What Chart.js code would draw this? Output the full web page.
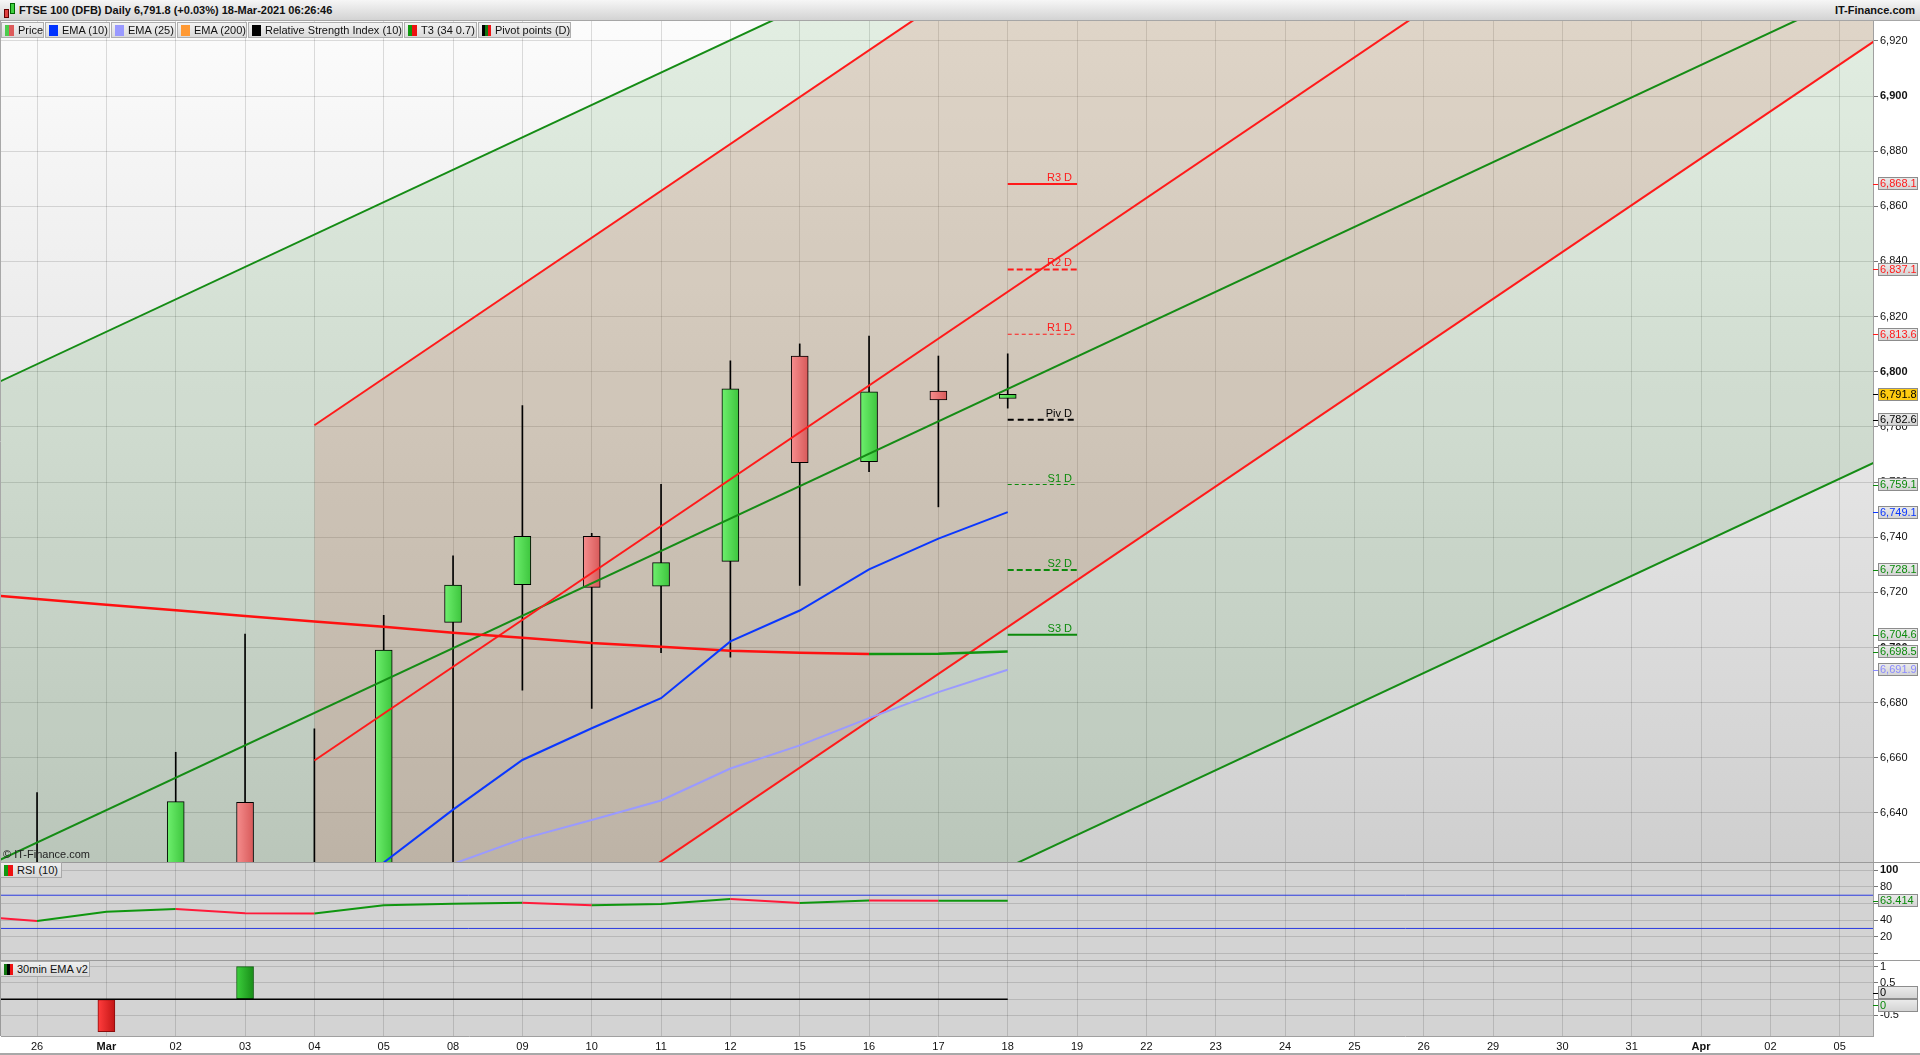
<!DOCTYPE html>
<html><head><meta charset="utf-8">
<script src="https://cdn.jsdelivr.net/npm/chart.js@4.4.1/dist/chart.umd.min.js"></script>
<style>
*{box-sizing:border-box}
html,body{margin:0;padding:0;background:#fff;width:1920px;height:1055px;overflow:hidden;font-family:"Liberation Sans",Arial,Helvetica,sans-serif;}
canvas{position:absolute;left:0}
#titlebar{position:absolute;left:0;top:0;width:1920px;height:21px;background:linear-gradient(#f6f6f6,#d3d3d3);border-bottom:1px solid #a6a6a6;}
#ticon{position:absolute;left:3px;top:2px;width:13px;height:16px}
#titletext{position:absolute;left:19px;top:4px;font-weight:bold;font-size:11px;color:#111;white-space:nowrap}
#brand{position:absolute;right:5px;top:4px;font-weight:bold;font-size:11px;color:#111}
#legend{position:absolute;left:1px;top:22px;height:16px;display:flex}
.item{height:16px;border:1px solid #aeaeae;background:linear-gradient(#f3f3f3,#dadada);font-size:11px;line-height:14px;padding:0 0 0 3px;display:flex;align-items:center;margin-right:1px;color:#111;white-space:nowrap}
.sw{width:9px;height:11px;margin-right:4px;flex:none}
.tag{position:absolute;left:0;height:16px;border:1px solid #a8a8a8;background:linear-gradient(#f0f0f0,#d8d8d8);font-size:11px;line-height:14px;display:flex;align-items:center;padding-left:3px;color:#111;white-space:nowrap}
#copy{position:absolute;left:3px;top:848px;font-size:11px;color:#222}
#bottomline{position:absolute;left:0;top:1053px;width:1920px;height:2px;background:#a8a8a8}
</style></head>
<body>
<canvas id="cMain" width="1920" height="841" style="top:21px;width:1920px;height:841px"></canvas>
<canvas id="cRsi" width="1920" height="98" style="top:862px;width:1920px;height:98px"></canvas>
<canvas id="cSig" width="1920" height="95" style="top:960px;width:1920px;height:95px"></canvas>

<div id="titlebar">
  <div id="ticon">
    <div style="position:absolute;left:1px;top:7px;width:5px;height:9px;background:#e04040;border:1px solid #600"></div>
    <div style="position:absolute;left:7px;top:1px;width:5px;height:11px;background:#40d040;border:1px solid #060"></div>
  </div>
  <div id="titletext">FTSE 100 (DFB) Daily 6,791.8 (+0.03%) 18-Mar-2021 06:26:46</div>
  <div id="brand">IT-Finance.com</div>
</div>
<div id="legend">
  <div class="item" style="width:43px"><span class="sw" style="background:linear-gradient(90deg,#4ccc4c 50%,#dd5a5a 50%)"></span>Price</div>
  <div class="item" style="width:65px"><span class="sw" style="background:#0033ff"></span>EMA (10)</div>
  <div class="item" style="width:65px"><span class="sw" style="background:#9999ff"></span>EMA (25)</div>
  <div class="item" style="width:70px"><span class="sw" style="background:#ff9933"></span>EMA (200)</div>
  <div class="item" style="width:155px"><span class="sw" style="background:#000"></span>Relative Strength Index (10)</div>
  <div class="item" style="width:73px"><span class="sw" style="background:linear-gradient(90deg,#119911 50%,#ee1111 50%)"></span>T3 (34 0.7)</div>
  <div class="item" style="width:93px"><span class="sw" style="background:linear-gradient(90deg,#000 33%,#117711 33%,#117711 66%,#ee1111 66%)"></span>Pivot points (D)</div>
</div>
<div id="copy">© IT-Finance.com</div>
<div class="tag" style="top:862px;width:62px"><span class="sw" style="background:linear-gradient(90deg,#119911 50%,#ee1111 50%)"></span>RSI (10)</div>
<div class="tag" style="top:961px;width:90px"><span class="sw" style="background:linear-gradient(90deg,#117711 33%,#000 33%,#000 66%,#ee1111 66%)"></span>30min EMA v2</div>
<div id="bottomline"></div>

<script>
// ---------- DATA ----------
const days = ['26','Mar','02','03','04','05','08','09','10','11','12','15','16','17','18','19','22','23','24','25','26','29','30','31','Apr','02','05'];
// daily candles 26 Feb .. 18 Mar (session index 0..14)
const priceOpen  = [6600.0, 6585.0, 6612.0, 6643.8, 6614.0, 6605.0, 6709.1, 6722.8, 6740.3, 6722.2, 6731.2, 6805.7, 6767.4, 6793.0, 6790.3];
const priceHigh  = [6647.4, 6618.0, 6662.0, 6704.9, 6670.5, 6711.7, 6733.2, 6787.7, 6741.4, 6759.2, 6804.0, 6810.1, 6812.9, 6805.7, 6806.5];
const priceLow   = [6570.0, 6575.0, 6600.0, 6600.0, 6590.0, 6585.0, 6615.0, 6684.5, 6677.9, 6698.1, 6696.5, 6722.5, 6763.8, 6751.0, 6786.8];
const priceClose = [6585.0, 6612.0, 6644.1, 6615.0, 6612.0, 6699.1, 6722.6, 6740.3, 6721.8, 6730.8, 6793.8, 6767.0, 6792.7, 6789.8, 6791.8];
const ema10 = [6576.0, 6580.0, 6590.0, 6598.0, 6605.0, 6622.0, 6641.2, 6659.2, 6670.7, 6681.6, 6702.2, 6713.4, 6728.3, 6739.5, 6749.1];
const ema25 = [6590.0, 6592.0, 6596.0, 6601.0, 6606.0, 6612.0, 6621.5, 6630.6, 6637.4, 6644.5, 6656.1, 6664.5, 6674.4, 6683.8, 6691.9];
// these two start one session earlier (25 Feb, just off the left edge)
const t3  = [6719.7, 6717.6, 6715.5, 6713.5, 6711.4, 6709.4, 6707.5, 6705.3, 6703.5, 6701.6, 6700.3, 6698.8, 6698.1, 6697.6, 6697.7, 6698.5];
const rsi = [45.1, 39.0, 50.2, 53.4, 48.2, 48.0, 57.9, 59.8, 61.0, 57.9, 59.4, 65.4, 60.6, 63.5, 63.2, 63.414];
const rsiLevels = [70, 30];
const signal = [0, -1, 0, 1, 0, 0, 0, 0, 0, 0, 0, 0, 0, 0, 0];
const pivotNames  = ['R3 D', 'R2 D', 'R1 D', 'Piv D', 'S1 D', 'S2 D', 'S3 D'];
const pivotValues = [6868.1, 6837.1, 6813.6, 6782.6, 6759.1, 6728.1, 6704.6];
// trend channels: session index of the two ends, and the price at each end
const greenChannelX = [-1, 27];
const greenUpper = [6791.0, 7120.0];
const greenMid   = [6617.5, 6946.5];
const greenLower = [6444.0, 6773.0];
const redChannelX = [4, 27];
const redUpper = [6780.6, 7171.6];
const redMid   = [6659.0, 7050.0];
const redLower = [6537.4, 6928.4];
const priceTicks  = [6640, 6660, 6680, 6700, 6720, 6740, 6760, 6780, 6800, 6820, 6840, 6860, 6880, 6900, 6920];
const rsiTicks    = [0, 20, 40, 60, 80, 100];
const signalTicks = [-0.5, 0, 0.5, 1];

// ---------- STYLE ----------
const FONT = '"Liberation Sans", Arial, Helvetica, sans-serif';
Chart.defaults.font.family = FONT;
Chart.defaults.font.size = 11;
Chart.defaults.color = '#111';
const GRID = 'rgba(0,0,0,0.13)';
const GREEN = '#158c15', RED = '#ff1a1a';
const X_MIN = -0.52, X_MAX = 26.48;
const pivotColors = [RED, RED, RED, '#000', '#0b8a0b', '#0b8a0b', '#0b8a0b'];
const pivotDash = [[], [6, 3], [4, 3], [6, 4], [4, 3], [6, 3], []];
const pivotWidth = [2, 2, 1, 2, 1, 2, 2];

const pts = (xs, ys) => ys.map((y, i) => ({x: xs[i], y}));
const seq = (arr, start) => arr.map((y, i) => ({x: i + start, y}));
const lastSession = priceClose.length - 1;

function xScale(showLabels) {
  return {
    type: 'linear', position: 'bottom', min: X_MIN, max: X_MAX, offset: false,
    afterBuildTicks: s => { s.ticks = days.map((d, i) => ({value: i})); },
    afterFit: s => { s.height = showLabels ? 19 : 0; s.paddingLeft = 0; s.paddingRight = 0; },
    grid: {color: GRID, drawTicks: false, offset: false},
    border: {display: showLabels, color: '#a0a0a0'},
    ticks: {
      display: showLabels, padding: 4, maxRotation: 0, autoSkip: false, color: '#111',
      font: c => ({size: 11, weight: (c.tick && /[A-Za-z]/.test(days[c.tick.value])) ? 'bold' : 'normal'}),
      callback: v => days[v]
    }
  };
}
function yScale(min, max, tickVals, fmt, boldFn) {
  return {
    type: 'linear', position: 'right', min, max, beginAtZero: false,
    afterBuildTicks: s => { s.ticks = tickVals.map(v => ({value: v})); },
    afterFit: s => { s.width = 47; s.paddingTop = 0; s.paddingBottom = 0; },
    grid: {color: GRID, tickColor: '#777', tickLength: 5},
    border: {color: '#a0a0a0'},
    ticks: {padding: 2, color: '#111', callback: fmt,
      font: c => ({size: 11, weight: (c.tick && boldFn(c.tick.value)) ? 'bold' : 'normal'})}
  };
}
function barGrad(c, light, dark) {
  const ch = c.chart, xs = ch.scales && ch.scales.x;
  if (!xs || !c.raw || !ch.chartArea) return light;
  const px = xs.getPixelForValue(c.raw.x);
  if (!isFinite(px)) return light;
  const g = ch.ctx.createLinearGradient(px - 8, 0, px + 9, 0);
  g.addColorStop(0, light); g.addColorStop(1, dark);
  return g;
}
function drawMarkers(chart, markers) {
  const {ctx, chartArea: a} = chart;
  const ys = chart.scales.y;
  const items = markers.map(m => Object.assign({}, m, {py: ys.getPixelForValue(m.value)})).sort((p, q) => p.py - q.py);
  const gap = 12.5;
  let i = 0;
  while (i < items.length) {
    let j = i;
    while (j + 1 < items.length && items[j + 1].py - items[j].py < gap) j++;
    if (j > i) {
      const mean = items.slice(i, j + 1).reduce((s, it) => s + it.py, 0) / (j - i + 1);
      const start = mean - gap * (j - i) / 2;
      for (let k = i; k <= j; k++) items[k].py = start + gap * (k - i);
    }
    i = j + 1;
  }
  ctx.save();
  ctx.font = '11px ' + FONT;
  ctx.textBaseline = 'middle'; ctx.textAlign = 'left';
  items.forEach(it => {
    const bx = a.right + 5, bw = 40, bh = 13, by = Math.round(it.py - bh / 2);
    ctx.strokeStyle = it.color; ctx.lineWidth = 1;
    ctx.beginPath(); ctx.moveTo(a.right, Math.round(it.py) + 0.5); ctx.lineTo(bx, Math.round(it.py) + 0.5); ctx.stroke();
    const g = ctx.createLinearGradient(0, by, 0, by + bh);
    g.addColorStop(0, it.bg ? it.bg : '#ececec'); g.addColorStop(1, it.bg ? it.bg : '#d2d2d2');
    ctx.fillStyle = g; ctx.fillRect(bx, by, bw, bh);
    ctx.strokeStyle = '#8c8c8c'; ctx.strokeRect(bx + 0.5, by + 0.5, bw - 1, bh - 1);
    ctx.fillStyle = it.textColor || it.color;
    ctx.fillText(it.text, bx + 2, by + bh / 2 + 0.5);
  });
  ctx.restore();
}
const fmtPrice = v => v.toLocaleString('en-US', {minimumFractionDigits: 1, maximumFractionDigits: 1});
const common = {responsive: false, animation: false, devicePixelRatio: 1, events: []};

// ---------- MAIN CHART ----------
const lineDs = (data, color, width, order, extra) => Object.assign({type: 'line', data, borderColor: color, borderWidth: width, pointRadius: 0, tension: 0, order, clip: 0}, extra || {});
const mainDatasets = [
  lineDs(pts(greenChannelX, greenUpper), GREEN, 2, 4, {fill: 2, backgroundColor: 'rgba(40,140,40,0.12)'}),
  lineDs(pts(greenChannelX, greenMid), GREEN, 2, 4),
  lineDs(pts(greenChannelX, greenLower), GREEN, 2, 4),
  lineDs(pts(redChannelX, redUpper), RED, 2, 3, {fill: 5, backgroundColor: 'rgba(210,90,70,0.17)'}),
  lineDs(pts(redChannelX, redMid), RED, 2, 3),
  lineDs(pts(redChannelX, redLower), RED, 2, 3),
  {type: 'bar', order: 7, clip: 0, grouped: false, barThickness: 1, backgroundColor: '#000', borderWidth: 0,
   data: priceHigh.map((h, i) => ({x: i, y: [priceLow[i], h]}))},
  {type: 'bar', order: 6, clip: 0, grouped: false, barThickness: 17, borderWidth: 1, borderColor: '#000', borderSkipped: false,
   backgroundColor: c => (c.raw && priceClose[c.raw.x] >= priceOpen[c.raw.x]) ? barGrad(c, '#6cee6c', '#3cc43c') : barGrad(c, '#f58c8c', '#d65858'),
   data: priceOpen.map((o, i) => ({x: i, y: [o, priceClose[i]]}))},
  lineDs(seq(ema25, 0), '#9a9aff', 2, 2),
  lineDs(seq(ema10, 0), '#0a37ff', 2, 2),
  lineDs(seq(t3, -1), GREEN, 2.5, 2, {segment: {borderColor: c => c.p1.parsed.y >= c.p0.parsed.y ? '#0f960f' : '#ff1010'}}),
  ...pivotValues.map((v, i) => lineDs([{x: lastSession, y: v}, {x: lastSession + 1, y: v}], pivotColors[i], pivotWidth[i], 1, {borderDash: pivotDash[i]}))
];
const mainPlugin = {
  id: 'mainDeco',
  beforeDraw(chart) {
    const {ctx, chartArea: a} = chart;
    if (!a) return;
    const g = ctx.createLinearGradient(0, a.top, 0, a.bottom);
    g.addColorStop(0, '#fcfcfc'); g.addColorStop(1, '#cfcfcf');
    ctx.save(); ctx.fillStyle = g; ctx.fillRect(a.left, a.top, a.right - a.left, a.bottom - a.top); ctx.restore();
  },
  afterDatasetsDraw(chart) {
    const {ctx} = chart; const xs = chart.scales.x, ys = chart.scales.y;
    ctx.save(); ctx.font = '11px ' + FONT; ctx.textAlign = 'right'; ctx.textBaseline = 'alphabetic';
    pivotValues.forEach((v, i) => {
      ctx.fillStyle = pivotColors[i];
      ctx.fillText(pivotNames[i], xs.getPixelForValue(lastSession + 1) - 5, ys.getPixelForValue(v) - 3);
    });
    ctx.restore();
  },
  afterDraw(chart) {
    const {ctx, chartArea: a} = chart;
    ctx.save(); ctx.strokeStyle = '#a8a8a8'; ctx.lineWidth = 1;
    ctx.beginPath(); ctx.moveTo(0.5, a.top); ctx.lineTo(0.5, a.bottom); ctx.stroke();
    ctx.restore();
    const markers = [
      ...pivotValues.map((v, i) => ({value: v, color: pivotColors[i], text: fmtPrice(v)})),
      {value: priceClose[lastSession], color: '#000', bg: '#ffcc11', text: fmtPrice(priceClose[lastSession])},
      {value: ema10[ema10.length - 1], color: '#0a37ff', text: fmtPrice(ema10[ema10.length - 1])},
      {value: t3[t3.length - 1], color: '#0b8a0b', text: fmtPrice(t3[t3.length - 1])},
      {value: ema25[ema25.length - 1], color: '#8a8aff', text: fmtPrice(ema25[ema25.length - 1])}
    ];
    drawMarkers(chart, markers);
  }
};
try {
new Chart(document.getElementById('cMain'), {
  type: 'line',
  data: {datasets: mainDatasets},
  options: Object.assign({}, common, {
    layout: {padding: {left: 1, top: 0, right: 0, bottom: 0}, autoPadding: false},
    plugins: {legend: {display: false}, tooltip: {enabled: false}, filler: {drawTime: 'beforeDatasetsDraw'}},
    scales: {
      x: xScale(false),
      y: yScale(6622.2, 6927.2, priceTicks, v => v.toLocaleString('en-US'), v => v % 100 === 0)
    }
  }),
  plugins: [mainPlugin]
});
} catch (e) { console.error(e); }

// ---------- RSI PANEL ----------
const panelBg = {
  id: 'panelBg',
  beforeDraw(chart) {
    const {ctx, chartArea: a} = chart;
    if (!a) return;
    ctx.save(); ctx.fillStyle = '#d3d3d3'; ctx.fillRect(a.left, a.top, a.right - a.left, a.bottom - a.top); ctx.restore();
  },
  afterDraw(chart) {
    const {ctx, chartArea: a} = chart;
    ctx.save(); ctx.strokeStyle = '#9a9a9a'; ctx.lineWidth = 1;
    ctx.beginPath(); ctx.moveTo(0, a.top + 0.5); ctx.lineTo(chart.width, a.top + 0.5); ctx.stroke();
    ctx.beginPath(); ctx.moveTo(0.5, a.top); ctx.lineTo(0.5, a.bottom); ctx.stroke();
    ctx.restore();
  }
};
try {
new Chart(document.getElementById('cRsi'), {
  type: 'line',
  data: {datasets: [
    ...rsiLevels.map(l => lineDs([{x: -1, y: l}, {x: days.length, y: l}], '#2a3ae0', 1, 3)),
    lineDs(seq(rsi, -1), GREEN, 2, 1, {segment: {borderColor: c => c.p1.parsed.y >= c.p0.parsed.y ? '#0f960f' : '#ff1a3a'}})
  ]},
  options: Object.assign({}, common, {
    layout: {padding: {left: 1, top: 0, right: 0, bottom: 0}, autoPadding: false},
    plugins: {legend: {display: false}, tooltip: {enabled: false}},
    scales: {x: xScale(false), y: yScale(-8, 110, rsiTicks, v => v === 0 ? '' : String(v), v => v === 100)}
  }),
  plugins: [panelBg, {id: 'rsiMarker', afterDraw(chart) {
    const v = rsi[rsi.length - 1];
    drawMarkers(chart, [{value: v, color: '#0b8a0b', text: v.toFixed(3)}]);
  }}]
});
} catch (e) { console.error(e); }

// ---------- 30min EMA v2 PANEL ----------
try {
new Chart(document.getElementById('cSig'), {
  type: 'line',
  data: {datasets: [
    {type: 'bar', order: 2, clip: 0, grouped: false, barThickness: 17, borderWidth: 1, borderSkipped: false,
     borderColor: c => (c.raw && c.raw.y > 0) ? '#0d5e0d' : '#8a0c0c',
     backgroundColor: c => (c.raw && c.raw.y > 0) ? barGrad(c, '#3bcc3b', '#178c17') : barGrad(c, '#ff3c3c', '#c01414'),
     data: signal.map((v, i) => ({x: i, y: v === 0 ? null : v}))},
    lineDs([{x: -1, y: 0}, ...signal.map((v, i) => ({x: i, y: 0}))], '#000', 1.5, 1)
  ]},
  options: Object.assign({}, common, {
    layout: {padding: {left: 1, top: 0, right: 0, bottom: 0}, autoPadding: false},
    plugins: {legend: {display: false}, tooltip: {enabled: false}},
    scales: {x: xScale(true), y: yScale(-1.135, 1.205, signalTicks, v => v === 0 ? '' : String(v), v => false)}
  }),
  plugins: [panelBg, {id: 'sigMarker', afterDraw(chart) {
    drawMarkers(chart, [
      {value: signal[signal.length - 1], color: '#000', text: '0'},
      {value: 0, color: '#0b8a0b', text: '0'}
    ]);
  }}]
});
} catch (e) { console.error(e); }
</script>
</body></html>
